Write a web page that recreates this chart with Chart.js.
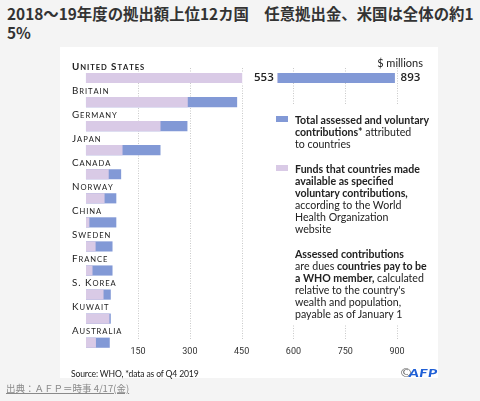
<!DOCTYPE html>
<html>
<head>
<meta charset="utf-8">
<script src="https://cdn.jsdelivr.net/npm/chart.js@4.4.1/dist/chart.umd.min.js"></script>
<style>
  html, body { margin:0; padding:0; }
  body { width:480px; height:401px; background:#f4f4f4; position:relative; overflow:hidden; }
  #title { position:absolute; left:7px; top:3.5px; font-family:"Noto Sans CJK JP", sans-serif; font-weight:700; font-size:15.4px; line-height:19.5px; color:#333; white-space:nowrap; }
  #panel { position:absolute; left:60px; top:47px; width:378px; height:331px; background:#fff; }
  #chart { position:absolute; left:0; top:0; }
  #unit { position:absolute; right:15px; top:9px; font-family:Lato, sans-serif; font-size:11px; line-height:13px; color:#222; }
  #legend { position:absolute; left:215px; top:58px; width:163px; height:220px; background:#fff; font-family:Lato, sans-serif; font-size:10.6px; line-height:12px; color:#222; }
  .sw { position:absolute; left:1px; width:12px; height:6px; }
  .lt { position:absolute; left:20px; white-space:nowrap; }
  .lt b { font-weight:700; }
  #source { position:absolute; left:11px; top:321px; font-family:Lato, sans-serif; font-size:8.6px; letter-spacing:-0.15px; line-height:12px; color:#222; white-space:nowrap; }
  #afp { position:absolute; right:1px; top:315px; height:18px; white-space:nowrap; }
  #afp .c { font-family:"DejaVu Sans", sans-serif; font-size:13px; color:#666; vertical-align:middle; }
  #afp .a { display:inline-block; font-family:Lato, sans-serif; font-style:italic; font-weight:900; font-size:11px; color:#1f5fd6; transform:scaleX(1.4); transform-origin:right center; vertical-align:middle; letter-spacing:0.3px; }
  #footer { position:absolute; left:6px; top:382px; font-family:"Noto Sans CJK JP", sans-serif; font-size:9.5px; line-height:12px; color:#8a8a8a; text-decoration:underline; white-space:nowrap; }
</style>
</head>
<body>
<div id="title">2018～19年度の拠出額上位12カ国　任意拠出金、米国は全体の約1<br>5%</div>
<div id="panel">
  <canvas id="chart" width="378" height="331"></canvas>
  <div id="unit">$ millions</div>
  <div id="legend">
    <div class="sw" style="top:10.5px;background:#8299d6"></div>
    <div class="lt" style="top:9px"><b>Total assessed and voluntary<br>contributions*</b> attributed<br>to countries</div>
    <div class="sw" style="top:60px;background:#d9cae6"></div>
    <div class="lt" style="top:58px"><b>Funds that countries made<br>available as specified<br>voluntary contributions,</b><br>according to the World<br>Health Organization<br>website</div>
    <div class="lt" style="top:143px"><b>Assessed contributions</b><br>are dues <b>countries pay to be<br>a WHO member,</b> calculated<br>relative to the country's<br>wealth and population,<br>payable as of January 1</div>
  </div>
  <div id="source">Source: WHO, *data as of Q4 2019</div>
  <div id="afp"><span class="c">©</span> <span class="a">AFP</span></div>
</div>
<div id="footer">出典：ＡＦＰ＝時事 4/17(金)</div>

<script>
const countries = ['United States','Britain','Germany','Japan','Canada','Norway','China','Sweden','France','S. Korea','Kuwait','Australia'];
const totalContrib = [893, 436, 292, 214, 100, 86, 86, 75, 75, 70, 70, 67];
const specifiedVoluntary = [553, 293, 214, 104, 64, 52, 8, 26, 17, 49, 66, 27];
const tickValues = [150, 300, 450, 600, 750, 900];
const labelledIndex = 0;

const BLUE = '#8299d6';
const PURPLE = '#d9cae6';
const GRID = '#c9c9c9';
const GRID_TOP = 21, GRID_BOTTOM = 293;

function dotted(ctx, x, y1, y2) {
  ctx.save();
  ctx.strokeStyle = GRID;
  ctx.lineWidth = 1;
  ctx.setLineDash([1, 1.5]);
  ctx.beginPath();
  ctx.moveTo(Math.round(x) + 0.5, y1);
  ctx.lineTo(Math.round(x) + 0.5, y2);
  ctx.stroke();
  ctx.restore();
}

function smallCaps(ctx, text, x, y, big, small, weight, spacing) {
  let cx = x;
  for (const ch of text) {
    const up = ch.toUpperCase();
    const isLower = ch !== up;
    ctx.font = weight + ' ' + (isLower ? small : big) + 'px Lato';
    ctx.fillText(up, cx, y);
    cx += ctx.measureText(up).width + spacing;
  }
}

const decor = {
  id: 'decor',
  beforeDatasetsDraw(chart) {
    const ctx = chart.ctx, xs = chart.scales.x;
    tickValues.forEach(v => dotted(ctx, xs.getPixelForValue(v), GRID_TOP, GRID_BOTTOM));
  },
  afterDatasetsDraw(chart) {
    const ctx = chart.ctx, xs = chart.scales.x, ys = chart.scales.y;
    const x0 = xs.getPixelForValue(0);
    ctx.save();
    ctx.fillStyle = '#222';
    ctx.textBaseline = 'alphabetic';
    countries.forEach((c, i) => {
      const y = ys.getPixelForValue(i) - 12 + 3.5;
      smallCaps(ctx, c, x0 - 14.3, y, 9.8, 7.6, i === labelledIndex ? '700' : '400', 0.95);
    });
    const yc = ys.getPixelForValue(labelledIndex);
    const xs1 = xs.getPixelForValue(specifiedVoluntary[labelledIndex]);
    const xt = xs.getPixelForValue(totalContrib[labelledIndex]);
    ctx.fillStyle = '#fff';
    ctx.fillRect(xs1 - 35, yc - 6, 35, 12);
    tickValues.forEach(v => {
      const px = xs.getPixelForValue(v);
      if (px > xs1 - 35 && px < xs1) dotted(ctx, px, yc - 6, yc + 6);
    });
    ctx.fillStyle = '#222';
    ctx.font = '600 11.5px "Open Sans"';
    ctx.textBaseline = 'middle';
    ctx.textAlign = 'right';
    ctx.fillText(String(specifiedVoluntary[labelledIndex]), xs1 - 3.5, yc);
    ctx.textAlign = 'left';
    ctx.fillText(String(totalContrib[labelledIndex]), xt + 6, yc);
    ctx.restore();
  }
};

new Chart(document.getElementById('chart'), {
  type: 'bar',
  data: {
    labels: countries,
    datasets: [
      { label: 'Specified voluntary contributions', data: specifiedVoluntary, backgroundColor: PURPLE, grouped: false, barThickness: 9.5, clip: false, order: 0 },
      { label: 'Total assessed and voluntary contributions', data: totalContrib, backgroundColor: BLUE, grouped: false, barThickness: 9.5, clip: false, order: 1 }
    ]
  },
  options: {
    indexAxis: 'y',
    responsive: false,
    animation: false,
    layout: { padding: { left: 26.3, right: 41, top: 31, bottom: 15.3 } },
    scales: {
      x: {
        type: 'linear', min: 0, max: 900,
        afterBuildTicks: s => { s.ticks = tickValues.map(v => ({ value: v })); },
        afterFit: s => { s.height = 20; },
        ticks: { font: { family: 'Roboto', size: 9 }, color: '#333', padding: 4, maxRotation: 0, autoSkip: false },
        grid: { display: false, drawTicks: false },
        border: { display: false }
      },
      y: { type: 'category', display: false, offset: false, afterFit: s => { s.width = 0; } }
    },
    plugins: { legend: { display: false }, tooltip: { enabled: false } }
  },
  plugins: [decor]
});
</script>
</body>
</html>
